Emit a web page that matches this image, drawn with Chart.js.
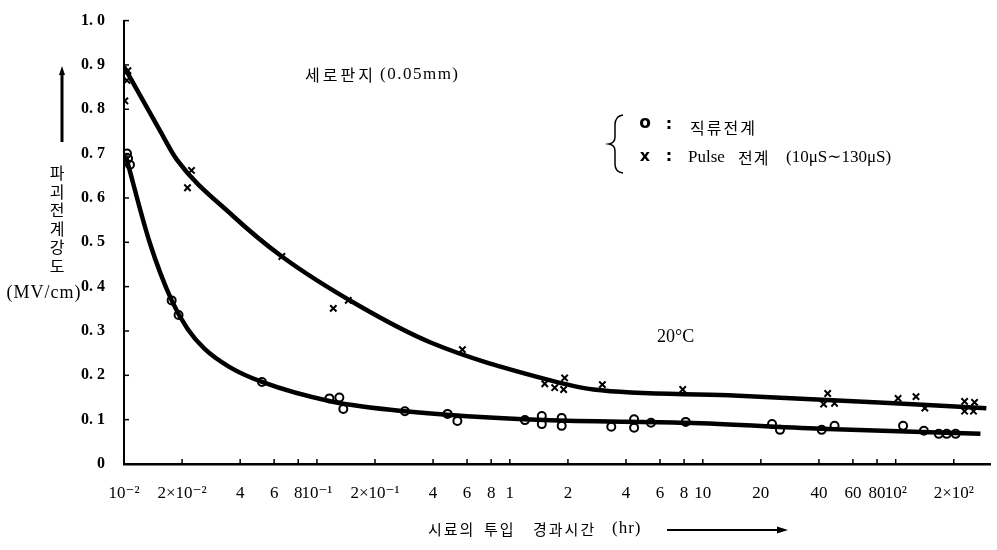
<!DOCTYPE html>
<html>
<head>
<meta charset="utf-8">
<script src="https://cdn.jsdelivr.net/npm/chart.js@4"></script>
<style>
  body { margin: 0; background: #fff; }
  canvas { display: block; }
</style>
</head>
<body>
<canvas id="chart" width="997" height="550"></canvas>
<script>
// 직류전계 (o) measured points, x in hr, y in MV/cm
const dcX = [0.01036, 0.0105, 0.01074, 0.01766, 0.01918, 0.0519, 0.1161, 0.1307, 0.137, 0.2857, 0.4754, 0.5346, 1.197, 1.464, 1.464, 1.856, 1.856, 3.355, 4.406, 4.406, 5.389, 8.155, 22.86, 25.13, 41.33, 48.2, 109.2, 140, 167.2, 183.8, 204.5];
const dcY = [0.700, 0.689, 0.675, 0.369, 0.336, 0.185, 0.148, 0.150, 0.124, 0.119, 0.113, 0.097, 0.099, 0.108, 0.090, 0.104, 0.086, 0.084, 0.101, 0.082, 0.093, 0.095, 0.090, 0.077, 0.077, 0.086, 0.086, 0.075, 0.068, 0.068, 0.068];

// Pulse 전계 (x) measured points
const pulseX = [0.01048, 0.01036, 0.0101, 0.02133, 0.02238, 0.0658, 0.1216, 0.1454, 0.5675, 1.517, 1.708, 1.923, 1.90, 3.017, 7.87, 44.4, 42.3, 48.2, 102.9, 127.4, 141.6, 227.5, 256.2, 227.5, 253.1];
const pulseY = [0.887, 0.865, 0.819, 0.623, 0.662, 0.468, 0.351, 0.369, 0.258, 0.181, 0.172, 0.194, 0.168, 0.179, 0.168, 0.159, 0.135, 0.137, 0.148, 0.152, 0.126, 0.141, 0.139, 0.119, 0.119];

// hand drawn curves through the points
const pulseCurveX = [0.01, 0.01531, 0.01874, 0.03637, 0.0658, 0.1637, 0.3886, 1.517, 2.711, 13.57, 98.1, 295];
const pulseCurveY = [0.896, 0.753, 0.687, 0.561, 0.468, 0.358, 0.274, 0.192, 0.168, 0.155, 0.137, 0.126];
const dcCurveX = [0.01024, 0.0136, 0.01766, 0.02133, 0.0261, 0.0351, 0.0519, 0.1189, 0.2857, 1.50, 8.155, 44.4, 274.9];
const dcCurveY = [0.693, 0.499, 0.369, 0.305, 0.260, 0.219, 0.185, 0.141, 0.119, 0.099, 0.093, 0.079, 0.068];

const xTicks = [0.01, 0.02, 0.04, 0.06, 0.08, 0.1, 0.2, 0.4, 0.6, 0.8, 1, 2, 4, 6, 8, 10, 20, 40, 60, 80, 100, 200];
const xTickLabels = ['10⁻²', '2×10⁻²', '4', '6', '8', '10⁻¹', '2×10⁻¹', '4', '6', '8', '1', '2', '4', '6', '8', '10', '20', '40', '60', '80', '10²', '2×10²'];
const yTicks = [0, 0.1, 0.2, 0.3, 0.4, 0.5, 0.6, 0.7, 0.8, 0.9, 1.0];
const yTickLabels = ['0', '0. 1', '0. 2', '0. 3', '0. 4', '0. 5', '0. 6', '0. 7', '0. 8', '0. 9', '1. 0'];

const serif = '"Liberation Serif", "DejaVu Serif", serif';
const kor = '"Noto Sans CJK KR", sans-serif';

function toPoints(xs, ys) {
    return xs.map((x, i) => ({ x: x, y: ys[i] }));
}

function txt(ctx, s, x, y, font, align, spacing) {
    ctx.font = font;
    ctx.textAlign = align || 'left';
    ctx.textBaseline = 'middle';
    ctx.letterSpacing = (spacing || 0) + 'px';
    ctx.fillText(s, x, y);
    ctx.letterSpacing = '0px';
}

// small inward tick marks + all the loose text of the figure
const decor = {
    id: 'decor',
    afterDraw(chart) {
        const ctx = chart.ctx;
        const area = chart.chartArea;
        const xs = chart.scales.x;
        const ys = chart.scales.y;
        ctx.save();
        ctx.strokeStyle = '#000';
        ctx.fillStyle = '#000';
        ctx.lineWidth = 1.5;
        for (let i = 0; i < xTicks.length; i++) {
            let px = xs.getPixelForValue(xTicks[i]);
            ctx.beginPath();
            ctx.moveTo(px, area.bottom);
            ctx.lineTo(px, area.bottom - 5);
            ctx.stroke();
        }
        for (let i = 0; i < yTicks.length; i++) {
            let py = ys.getPixelForValue(yTicks[i]);
            ctx.beginPath();
            ctx.moveTo(area.left, py);
            ctx.lineTo(area.left + 5, py);
            ctx.stroke();
        }

        // y title
        ctx.lineWidth = 3;
        ctx.beginPath();
        ctx.moveTo(62, 142);
        ctx.lineTo(62, 72);
        ctx.stroke();
        ctx.beginPath();
        ctx.moveTo(62, 66);
        ctx.lineTo(59, 75);
        ctx.lineTo(65, 75);
        ctx.closePath();
        ctx.fill();
        const yTitle = '파괴전계강도';
        for (let i = 0; i < yTitle.length; i++) {
            txt(ctx, yTitle[i], 57, 173 + i * 18.5, '16px ' + kor, 'center');
        }
        txt(ctx, '(MV/cm)', 44, 293, '18px ' + serif, 'center', 1);

        // x title
        txt(ctx, '시료의', 428, 529, '15px ' + kor, 'left', 2);
        txt(ctx, '투입', 484, 529, '15px ' + kor, 'left', 2);
        txt(ctx, '경과시간', 533, 529, '15px ' + kor, 'left', 2);
        txt(ctx, '(hr)', 612, 529, '17px ' + serif, 'left', 1);
        ctx.lineWidth = 2;
        ctx.beginPath();
        ctx.moveTo(667, 530);
        ctx.lineTo(780, 530);
        ctx.stroke();
        ctx.beginPath();
        ctx.moveTo(788, 530);
        ctx.lineTo(777, 526.5);
        ctx.lineTo(777, 533.5);
        ctx.closePath();
        ctx.fill();

        // annotations
        txt(ctx, '세로판지', 305, 75, '16px ' + kor, 'left', 3);
        txt(ctx, '(0.05mm)', 380, 75, '17px ' + serif, 'left', 1.5);
        txt(ctx, '20°C', 657, 337, '18px ' + serif, 'left');

        // legend with brace
        ctx.lineWidth = 1.5;
        ctx.beginPath();
        ctx.moveTo(623, 115);
        ctx.quadraticCurveTo(615, 116, 615, 125);
        ctx.lineTo(615, 137);
        ctx.quadraticCurveTo(615, 143, 609, 144);
        ctx.quadraticCurveTo(615, 145, 615, 151);
        ctx.lineTo(615, 164);
        ctx.quadraticCurveTo(615, 172, 623, 173);
        ctx.stroke();
        txt(ctx, 'o', 645, 124, 'bold 17px "DejaVu Sans"', 'center');
        txt(ctx, ':', 669, 125, 'bold 16px "DejaVu Sans"', 'center');
        txt(ctx, '직류전계', 690, 128, '16px ' + kor, 'left', 2);
        txt(ctx, 'x', 645, 157, 'bold 16px "DejaVu Sans"', 'center');
        txt(ctx, ':', 669, 157, 'bold 16px "DejaVu Sans"', 'center');
        txt(ctx, 'Pulse', 688, 158, '17px ' + serif, 'left');
        txt(ctx, '전계', 738, 158, '16px ' + kor, 'left', 1);
        txt(ctx, '(10μS∼130μS)', 786, 158, '17px ' + serif, 'left');
        ctx.restore();
    }
};

const ctx = document.getElementById('chart').getContext('2d');
const chart = new Chart(ctx, {
    type: 'scatter',
    data: {
        datasets: [{
            label: '직류전계',
            data: toPoints(dcX, dcY),
            showLine: false,
            pointStyle: 'circle',
            pointRadius: 4,
            pointBorderWidth: 2,
            borderColor: '#000',
            backgroundColor: 'rgba(255,255,255,0)'
        }, {
            label: 'Pulse 전계',
            data: toPoints(pulseX, pulseY),
            showLine: false,
            pointStyle: 'crossRot',
            pointRadius: 4.5,
            pointBorderWidth: 2,
            borderColor: '#000',
            backgroundColor: '#000'
        }, {
            label: 'dc curve',
            data: toPoints(dcCurveX, dcCurveY),
            showLine: true,
            pointRadius: 0,
            borderWidth: 4.5,
            borderColor: '#000',
            cubicInterpolationMode: 'monotone'
        }, {
            label: 'pulse curve',
            data: toPoints(pulseCurveX, pulseCurveY),
            showLine: true,
            pointRadius: 0,
            borderWidth: 4.5,
            borderColor: '#000',
            cubicInterpolationMode: 'monotone'
        }]
    },
    options: {
        responsive: false,
        animation: false,
        devicePixelRatio: 1,
        layout: { padding: { top: 3, right: 0, left: 0, bottom: 0 } },
        plugins: {
            legend: { display: false },
            tooltip: { enabled: false }
        },
        scales: {
            x: {
                type: 'logarithmic',
                min: 0.01,
                max: 310,
                grid: { display: false },
                border: { display: true, color: '#000', width: 2.5 },
                afterBuildTicks: (scale) => {
                    scale.ticks = xTicks.map(v => ({ value: v }));
                },
                afterFit: (scale) => { scale.height = 86; },
                ticks: {
                    autoSkip: false,
                    maxRotation: 0,
                    padding: 11,
                    color: '#000',
                    font: { family: serif, size: 17 },
                    callback: (value, index) => xTickLabels[index]
                }
            },
            y: {
                type: 'linear',
                min: 0,
                max: 1,
                grid: { display: false },
                border: { display: true, color: '#000', width: 2 },
                afterBuildTicks: (scale) => {
                    scale.ticks = yTicks.map(v => ({ value: v }));
                },
                afterFit: (scale) => { scale.width = 124; },
                ticks: {
                    padding: 11,
                    color: '#000',
                    font: { family: serif, size: 16, weight: 'bold' },
                    callback: (value, index) => yTickLabels[index]
                }
            }
        }
    },
    plugins: [decor]
});
</script>
</body>
</html>
